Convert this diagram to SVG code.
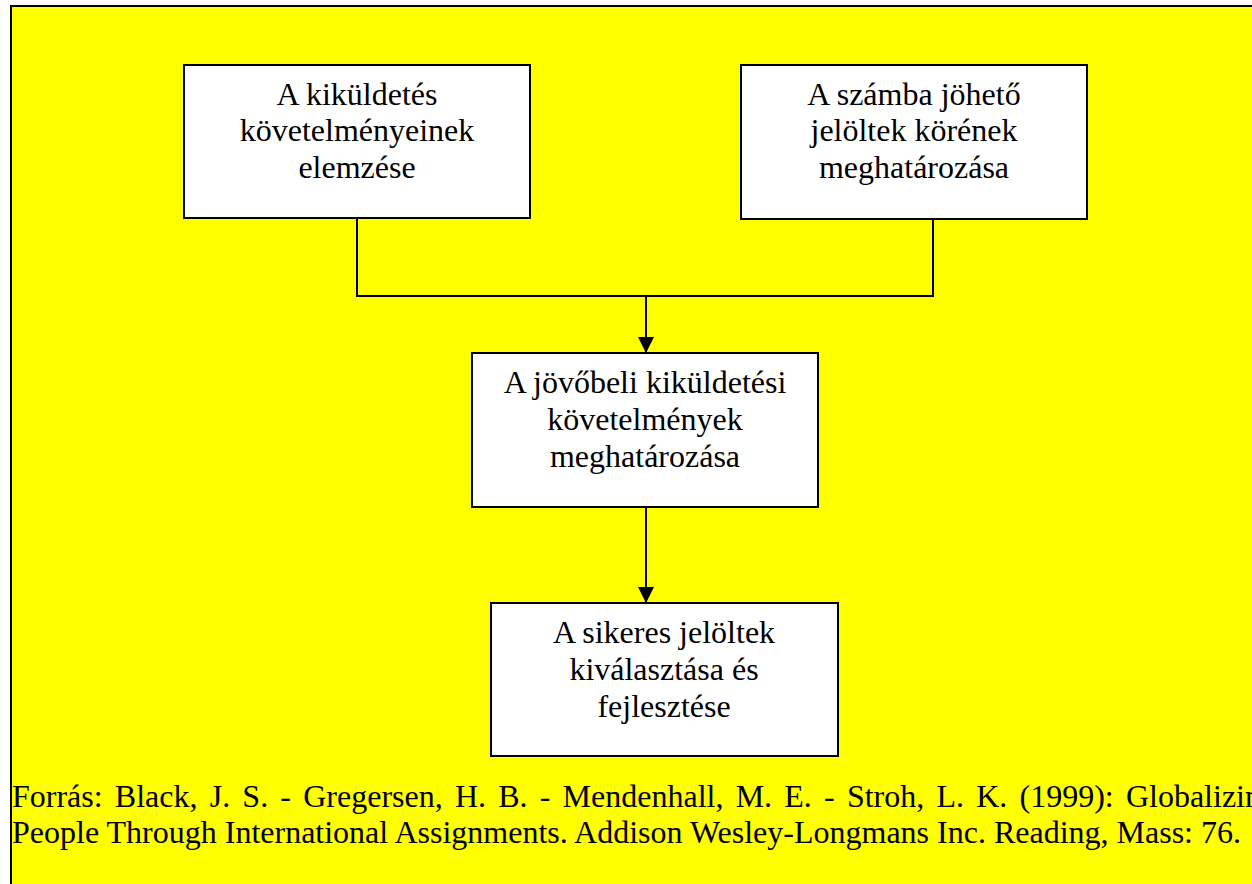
<svg xmlns="http://www.w3.org/2000/svg" width="1252" height="884" viewBox="0 0 1252 884">
  <style>
    .box { fill: #ffffff; stroke: #000000; stroke-width: 2; }
    .lbl { font-size: 32px; fill: #000000; text-anchor: middle; }
    .src { font-size: 32px; fill: #000000; }
    .wire { fill: none; stroke: #000000; stroke-width: 2; }
  </style>
  <defs>
    <marker id="head" viewBox="0 0 16 16" refX="16" refY="8" markerWidth="16" markerHeight="16" markerUnits="userSpaceOnUse" orient="auto">
      <path d="M0,0 L16,8 L0,16 Z" fill="#000000"/>
    </marker>
  </defs>

  <!-- page background and frame -->
  <rect x="0" y="0" width="1252" height="884" fill="#ffffff"/>
  <rect x="11" y="6" width="1260" height="900" fill="#ffff00" stroke="#000000" stroke-width="2"/>

  <!-- connectors -->
  <g id="connectors">
    <polyline class="wire" points="357,219 357,296 933,296 933,219"/>
    <line class="wire" x1="646" y1="296" x2="646" y2="353" marker-end="url(#head)"/>
    <line class="wire" x1="646" y1="507" x2="646" y2="603" marker-end="url(#head)"/>
  </g>

  <g font-family="Liberation Serif, Tinos, Times New Roman, serif">
    <g id="node-requirements">
      <rect class="box" x="184" y="65" width="346" height="153"/>
      <text class="lbl" x="357" y="105">A kiküldetés</text>
      <text class="lbl" x="357" y="141">követelményeinek</text>
      <text class="lbl" x="357" y="178">elemzése</text>
    </g>

    <g id="node-candidates">
      <rect class="box" x="741" y="65" width="346" height="154"/>
      <text class="lbl" x="914" y="105">A számba jöhető</text>
      <text class="lbl" x="914" y="141">jelöltek körének</text>
      <text class="lbl" x="914" y="178">meghatározása</text>
    </g>

    <g id="node-future">
      <rect class="box" x="472" y="353" width="346" height="154"/>
      <text class="lbl" x="645" y="393">A jövőbeli kiküldetési</text>
      <text class="lbl" x="645" y="430">követelmények</text>
      <text class="lbl" x="645" y="467">meghatározása</text>
    </g>

    <g id="node-selection">
      <rect class="box" x="491" y="603" width="347" height="153"/>
      <text class="lbl" x="664" y="643">A sikeres jelöltek</text>
      <text class="lbl" x="664" y="680">kiválasztása és</text>
      <text class="lbl" x="664" y="717">fejlesztése</text>
    </g>

    <!-- source note (first line justified, runs past the frame edge) -->
    <g id="source">
      <text class="src" x="12" y="807" word-spacing="4.2">Forrás: Black, J. S. - Gregersen, H. B. - Mendenhall, M. E. - Stroh, L. K. (1999): Globalizing</text>
      <text class="src" x="12" y="843">People Through International Assignments. Addison Wesley-Longmans Inc. Reading, Mass: 76.</text>
    </g>
  </g>
</svg>
